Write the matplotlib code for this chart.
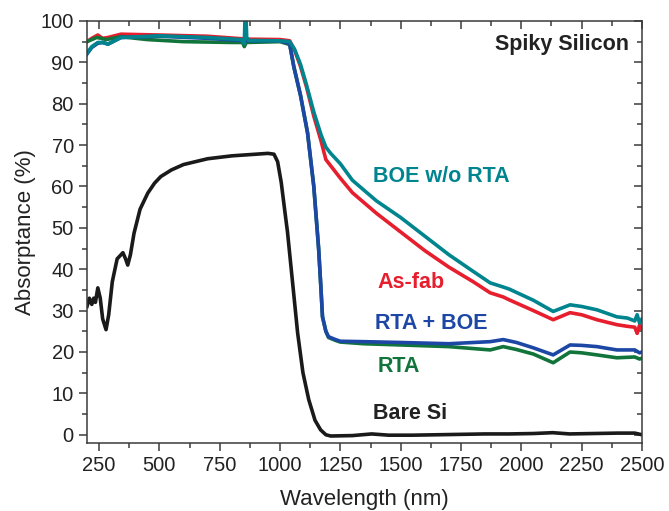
import matplotlib.pyplot as plt
from matplotlib.ticker import MultipleLocator

plt.rcParams['font.family'] = ['Liberation Sans', 'DejaVu Sans']

# Bare Si
wl_bare = [200, 210, 220, 228, 235, 245, 255, 265, 279, 290, 305, 325, 349, 360, 369, 380, 395, 420, 452, 480, 506, 550, 600,
           700, 800, 900, 950, 975, 990, 1005, 1020, 1031, 1050, 1073, 1095, 1119, 1145, 1168, 1190, 1210, 1300, 1380,
           1450, 1550, 1650, 1750, 1850, 1950, 2050, 2130, 2200, 2300, 2400, 2470, 2500]
ab_bare = [31, 33, 31.5, 33, 32, 35.5, 33, 28, 25.4, 29, 37, 42.5, 44, 42.5, 41, 43.5, 48.7, 54.5, 58.4, 60.8, 62.4, 64, 65.3,
           66.7, 67.4, 67.8, 68, 67.8, 66, 61, 54, 49, 38, 24.6, 15, 8.5, 3.5, 1.2, 0, -0.3, -0.2, 0.2,
           -0.1, -0.1, 0, 0.1, 0.2, 0.2, 0.3, 0.5, 0.2, 0.3, 0.4, 0.4, 0]

# As-fab
wl_asfab = [200, 220, 245, 265, 287, 341, 500, 700, 866, 1000, 1040, 1060, 1085, 1110, 1140, 1170, 1190, 1210, 1250, 1300,
            1400, 1500, 1600, 1700, 1800, 1871, 1925, 1950, 2050, 2132, 2202, 2250, 2313, 2396, 2440, 2470, 2480, 2490, 2500]
ab_asfab = [95, 95.8, 96.6, 95.8, 96, 96.8, 96.6, 96.3, 95.6, 95.5, 95.2, 93, 89, 84, 77, 71, 66.5, 65, 62, 58.5,
            53.5, 49, 44.5, 40.5, 37, 34.3, 33.3, 32.6, 30, 27.8, 29.5, 29, 27.8, 26.6, 26.2, 26, 24.5, 26.5, 25.5]

# BOE w/o RTA
wl_boe = [200, 220, 245, 265, 287, 341, 500, 700, 840, 852, 855, 858, 862, 870, 1000, 1040, 1060, 1085, 1110, 1140, 1170,
          1190, 1210, 1250, 1300, 1400, 1500, 1600, 1700, 1800, 1871, 1925, 1950, 2050, 2132, 2202, 2250, 2313, 2396,
          2440, 2470, 2480, 2490, 2500]
ab_boe = [92.2, 93.8, 94.8, 94.8, 94.4, 96, 96.4, 96, 95.5, 94.5, 101, 103, 96, 95.3, 95.2, 95, 93.2, 89.5, 84.5, 78, 72.5,
          69.5, 68, 65.5, 61.5, 56.5, 52.5, 48, 43.5, 39.5, 36.7, 35.7, 35.2, 32.5, 29.8, 31.4, 31, 30.2, 28.5,
          28.2, 27.5, 29, 27, 28]

# RTA + BOE
wl_rtaboe = [200, 220, 245, 265, 287, 341, 500, 700, 866, 1000, 1040, 1057, 1085, 1114, 1140, 1160, 1170, 1176, 1190,
             1201, 1230, 1250, 1346, 1500, 1700, 1871, 1925, 1980, 2050, 2132, 2202, 2250, 2313, 2396, 2470, 2490, 2500]
ab_rtaboe = [92, 93.6, 94.6, 94.8, 94.4, 96, 96.3, 95.8, 95.2, 95.2, 94.5, 89, 82, 73, 60, 45, 35, 28.5, 25,
             23.7, 23, 22.6, 22.5, 22.3, 22, 22.5, 23, 22.3, 21, 19.3, 21.7, 21.6, 21.3, 20.5, 20.5, 19.8, 20]

# RTA
wl_rta = [200, 220, 240, 260, 280, 340, 450, 600, 800, 845, 852, 860, 1000, 1040, 1057, 1085, 1114, 1140, 1160, 1170,
          1176, 1190, 1201, 1230, 1250, 1346, 1500, 1700, 1871, 1925, 1980, 2050, 2132, 2202, 2250, 2313, 2396, 2470,
          2490, 2500]
ab_rta = [95, 95.5, 96, 95.8, 95.5, 96.2, 95.5, 95, 94.8, 94.8, 93.8, 94.8, 95, 94.3, 89, 82, 73, 60, 45, 35,
          28.5, 25, 23.5, 22.8, 22.4, 22, 21.7, 21.3, 20.5, 21.3, 20.6, 19.5, 17.4, 20, 19.8, 19.3, 18.6, 18.8,
          18.3, 18.5]

fig, ax = plt.subplots(figsize=(6.69, 5.11), dpi=100)
fig.subplots_adjust(left=0.130, right=0.9596, bottom=0.133, top=0.959)

lw = 2.6
ax.plot(wl_bare, ab_bare, color='#1a1a1a', lw=lw)
ax.plot(wl_asfab, ab_asfab, color='#e61e2d', lw=lw)
ax.plot(wl_rta, ab_rta, color='#11743a', lw=lw)
ax.plot(wl_rtaboe, ab_rtaboe, color='#1d47a5', lw=lw)
ax.plot(wl_boe, ab_boe, color='#00858f', lw=lw)

ax.set_xlim(200, 2500)
ax.set_ylim(-2, 100)
ax.xaxis.set_major_locator(MultipleLocator(250))
ax.xaxis.set_minor_locator(MultipleLocator(125))
ax.yaxis.set_major_locator(MultipleLocator(10))
ax.yaxis.set_minor_locator(MultipleLocator(5))

for s in ax.spines.values():
    s.set_color('#3a3a3a')
    s.set_linewidth(1.1)
ax.tick_params(which='both', direction='out', colors='#3a3a3a', labelcolor='#222222', labelsize=14.5, width=1.1)
ax.tick_params(which='major', length=6)
ax.tick_params(which='minor', length=3.5)
ax.tick_params(which='both', top=True, right=True)

ax.set_xlabel('Wavelength (nm)', fontsize=16, color='#222222', labelpad=10)
ax.set_ylabel('Absorptance (%)', fontsize=16, color='#222222', labelpad=3)

# the mirrored ticks on top and right point into the plot
for t in ax.xaxis.get_major_ticks() + ax.xaxis.get_minor_ticks():
    t.tick2line.set_marker(3)
for t in ax.yaxis.get_major_ticks() + ax.yaxis.get_minor_ticks():
    t.tick2line.set_marker(0)

fs = 15.5
ax.text(2445, 94.2, 'Spiky Silicon', ha='right', va='center', fontsize=fs, fontweight='bold', color='#222222')
ax.text(1385, 62.3, 'BOE w/o RTA', ha='left', va='center', fontsize=fs, fontweight='bold', color='#00858f')
ax.text(1402, 36.7, 'As-fab', ha='left', va='center', fontsize=fs, fontweight='bold', color='#e61e2d')
ax.text(1394, 27, 'RTA + BOE', ha='left', va='center', fontsize=fs, fontweight='bold', color='#1d47a5')
ax.text(1406, 16.4, 'RTA', ha='left', va='center', fontsize=fs, fontweight='bold', color='#11743a')
ax.text(1385, 5.1, 'Bare Si', ha='left', va='center', fontsize=fs, fontweight='bold', color='#222222')

fig.savefig('out.png', dpi=100)
